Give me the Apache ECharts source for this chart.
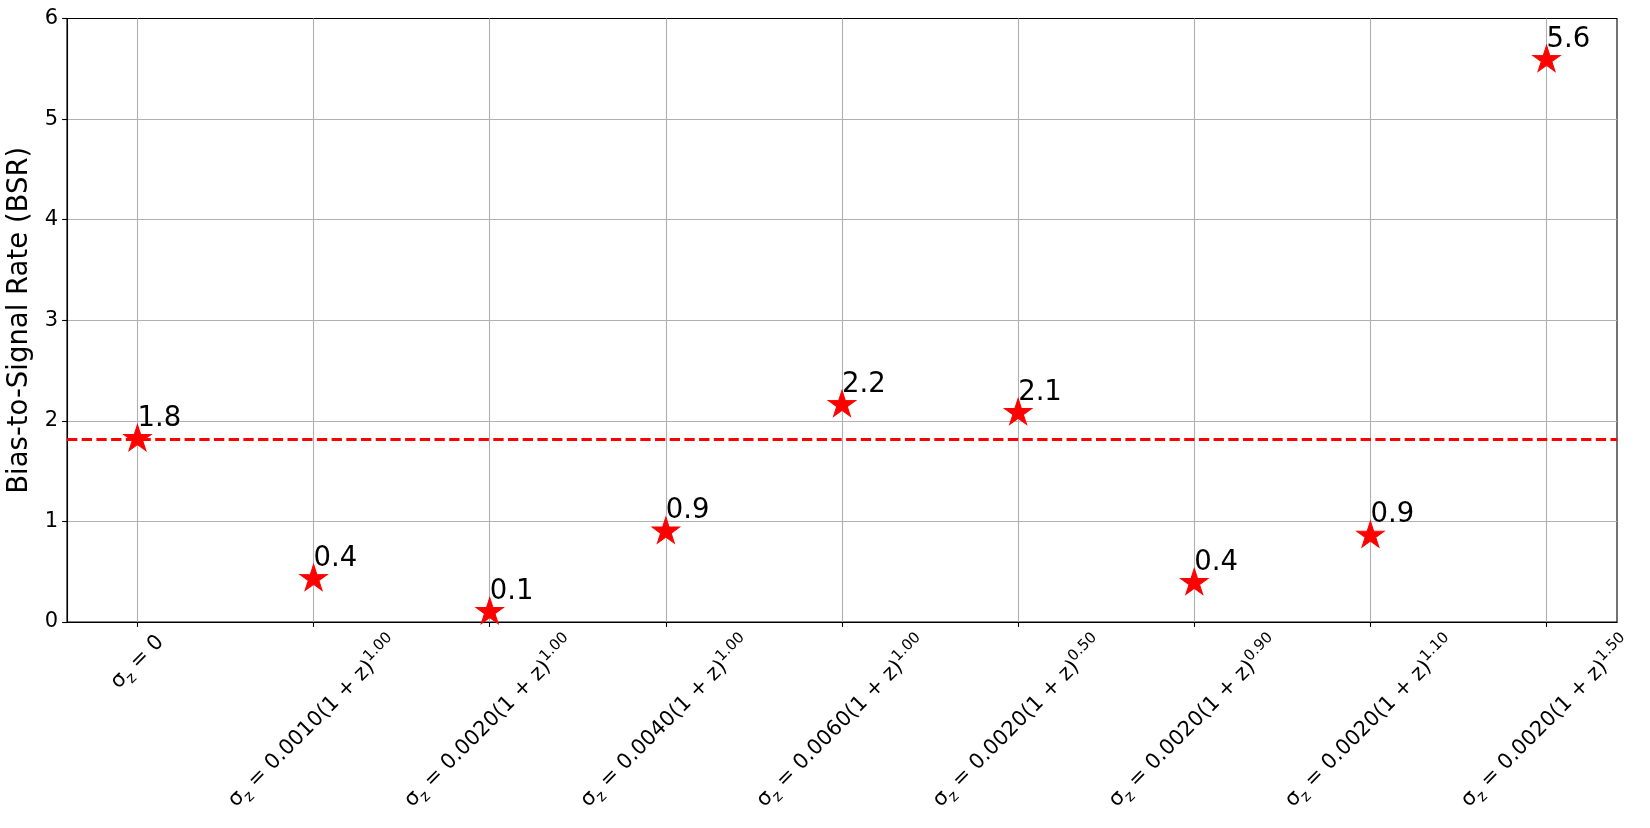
<!DOCTYPE html>
<html><head><meta charset="utf-8">
<script src="https://cdn.jsdelivr.net/npm/echarts@6/dist/echarts.min.js"></script>
<style>html,body{margin:0;padding:0;background:#fff}#c{width:1650px;height:828px}</style>
</head><body><div id="c"></div>
<script>
// ---- data ----
const coefficients = ['', '0.0010', '0.0020', '0.0040', '0.0060', '0.0020', '0.0020', '0.0020', '0.0020'];
const exponents    = ['', '1.00',   '1.00',   '1.00',   '1.00',   '0.50',   '0.90',   '1.10',   '1.50'];
const bsrValues    = [1.82, 0.43, 0.10, 0.90, 2.16, 2.08, 0.39, 0.86, 5.59];
const baselineBSR  = 1.82;
const xTickValues  = [0, 1, 2, 3, 4, 5, 6, 7, 8];
const yAxisTitle   = 'Bias-to-Signal Rate (BSR)';

const FONT = 'DejaVu Sans';
const PAD = 8;
const rich = {
  m: {fontSize: 21, fontFamily: FONT, lineHeight: 30, color: '#000'},
  s: {fontSize: 15, fontFamily: FONT, lineHeight: 18, verticalAlign: 'bottom', color: '#000'},
  p: {fontSize: 15, fontFamily: FONT, lineHeight: 18, verticalAlign: 'top', color: '#000'}
};
function labelText(i) {
  if (!coefficients[i]) return '{m|σ}{s|z}{m| = 0}';
  return '{m|σ}{s|z}{m| = ' + coefficients[i] + '(1 + z)}{p|' + exponents[i] + '}';
}
function measure(t) {
  const el = new echarts.graphic.Text({style: {text: t, rich: rich, fontSize: 21, fontFamily: FONT}});
  return el.getBoundingRect();
}
const STAR = 'path://M100 0 L122.45 69.1 L195.11 69.1 L136.33 111.8 L158.78 180.9 L100 138.2 L41.22 180.9 L63.67 111.8 L4.89 69.1 L77.55 69.1 Z';

const chart = echarts.init(document.getElementById('c'), null, {renderer: 'canvas'});
chart.setOption({
  animation: false,
  backgroundColor: '#fff',
  grid: {left: 67, right: 33, top: 18.5, bottom: 206, show: true, borderColor: '#000', borderWidth: 1.1, backgroundColor: 'transparent', outerBoundsMode: 'none'},
  xAxis: {
    type: 'value', min: -0.4, max: 8.4,
    axisLine: {show: true, onZero: false, lineStyle: {color: '#000', width: 1.1}},
    axisTick: {show: true, customValues: xTickValues, length: 4.9, lineStyle: {color: '#000', width: 1.1}},
    axisLabel: {show: false, customValues: xTickValues},
    splitLine: {show: true, lineStyle: {color: '#b0b0b0', width: 1.1}}
  },
  yAxis: {
    type: 'value', min: 0, max: 6, interval: 1,
    name: yAxisTitle, nameLocation: 'middle', nameGap: 29,
    nameTextStyle: {fontSize: 27.5, fontFamily: FONT, color: '#000'},
    axisLine: {show: true, onZero: false, lineStyle: {color: '#000', width: 1.1}},
    axisTick: {show: true, length: 4.9, lineStyle: {color: '#000', width: 1.1}},
    axisLabel: {fontSize: 21, fontFamily: FONT, color: '#000', margin: 9},
    splitLine: {show: true, showMinLine: false, showMaxLine: false, lineStyle: {color: '#b0b0b0', width: 1.1}}
  },
  series: [
    {
      type: 'scatter',
      data: bsrValues.map((v, i) => [xTickValues[i], v]),
      symbol: STAR, symbolSize: [27.5, 26], symbolOffset: [0, -1.3],
      itemStyle: {color: '#ff0000', borderColor: '#ff0000', borderWidth: 1, opacity: 1},
      z: 3,
      label: {
        show: true, position: 'inside', align: 'left', verticalAlign: 'middle', offset: [0, -19],
        formatter: p => p.value[1].toFixed(1),
        fontSize: 27.5, fontFamily: FONT, color: '#000'
      },
      markLine: {
        silent: true, symbol: 'none', animation: false,
        label: {show: false},
        lineStyle: {color: '#ff0000', width: 2.8, type: [10.3, 4.4]},
        data: [{yAxis: baselineBSR}]
      }
    },
    {
      type: 'custom',
      silent: true,
      clip: false,
      data: xTickValues.map(x => [x, 0]),
      encode: {x: 0, y: 1},
      renderItem: function (params, api) {
        const i = api.value(0);
        const pt = api.coord([i, 0]);
        const t = labelText(i);
        const r = measure(t);
        const cy = pt[1] + PAD + 0.35355 * (r.width + r.height);
        return {
          type: 'text', x: pt[0], y: cy, rotation: Math.PI / 4,
          style: {text: t, rich: rich, align: 'center', verticalAlign: 'middle', fill: '#000'}
        };
      }
    }
  ]
});
</script></body></html>
